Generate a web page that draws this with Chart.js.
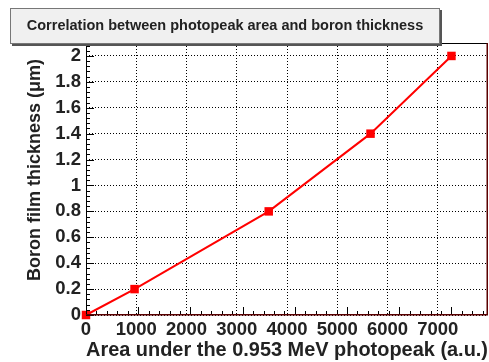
<!DOCTYPE html>
<html>
<head>
<meta charset="utf-8">
<script src="https://cdn.jsdelivr.net/npm/chart.js@4/dist/chart.umd.min.js"></script>
<style>
html,body{margin:0;padding:0;background:#fff;}
#wrap{width:489px;height:362px;position:relative;}
</style>
</head>
<body>
<div id="wrap"><canvas id="c" width="489" height="362"></canvas></div>
<script>
// ---- data ----
const chartTitle = "Correlation between photopeak area and boron thickness";
const xTitle = "Area under the 0.953 MeV photopeak (a.u.)";
const yTitle = "Boron film thickness (\u03bcm)";
const photopeakArea = [0, 930, 3500, 5450, 7000];
const boronThickness = [0, 0.2, 0.8, 1.4, 2.0];
const xTickLabels = ["0","1000","2000","3000","4000","5000","6000","7000"];
const yTickLabels = ["0","0.2","0.4","0.6","0.8","1","1.2","1.4","1.6","1.8","2"];

const FONT = "'Liberation Sans', Arial, Helvetica, sans-serif";

const decor = {
  id: 'decor',
  beforeDraw(chart) {
    const ctx = chart.ctx;
    ctx.save();
    ctx.fillStyle = '#fff';
    ctx.fillRect(0, 0, chart.width, chart.height);
    ctx.restore();
  },
  afterDraw(chart) {
    const ctx = chart.ctx;
    const a = chart.chartArea;
    const xs = chart.scales.x, ys = chart.scales.y;
    ctx.save();
    ctx.strokeStyle = '#000';
    ctx.lineWidth = 1;
    ctx.beginPath();
    for (let v = 0; v <= xs.max + 1e-6; v += 200) {
      const px = Math.round(xs.getPixelForValue(v)) + 0.5;
      const major = Math.abs(v / 1000 - Math.round(v / 1000)) < 1e-6;
      const len = major ? 8 : 4;
      ctx.moveTo(px, a.bottom); ctx.lineTo(px, a.bottom - len);
    }
    for (let v = 0; v <= ys.max + 1e-6; v += 0.04) {
      const py = Math.round(ys.getPixelForValue(v)) + 0.5;
      const major = Math.abs(v / 0.2 - Math.round(v / 0.2)) < 1e-6;
      const len = major ? 8 : 4;
      ctx.moveTo(a.left, py); ctx.lineTo(a.left + len, py);
    }
    ctx.stroke();
    ctx.strokeStyle = '#000';
    ctx.beginPath();
    ctx.moveTo(a.left + 0.5, a.bottom); ctx.lineTo(a.left + 0.5, a.top + 0.5); ctx.lineTo(a.right, a.top + 0.5);
    ctx.stroke();
    ctx.strokeStyle = '#5a0000';
    ctx.lineWidth = 1.5;
    ctx.beginPath();
    ctx.moveTo(a.right - 0.75, a.top); ctx.lineTo(a.right - 0.75, a.bottom - 0.25); ctx.lineTo(a.left, a.bottom - 0.25);
    ctx.stroke();
    // y axis title (ROOT-style placement, upper part of the axis)
    ctx.fillStyle = '#222';
    ctx.font = "bold 18px " + FONT;
    ctx.textAlign = 'center';
    ctx.textBaseline = 'alphabetic';
    ctx.translate(40, 170);
    ctx.rotate(-Math.PI / 2);
    ctx.fillText(yTitle, 0, 0);
    ctx.setTransform(1, 0, 0, 1, 0, 0);
    // title box
    const bx = 10, by = 8, bw = 430, bh = 36;
    ctx.fillStyle = '#555';
    ctx.fillRect(bx + 2, by + 2, bw, bh);
    ctx.fillStyle = '#f0f0f0';
    ctx.fillRect(bx, by, bw, bh);
    ctx.strokeStyle = '#777';
    ctx.lineWidth = 1;
    ctx.strokeRect(bx + 0.5, by + 0.5, bw - 1, bh - 1);
    ctx.fillStyle = '#222';
    ctx.font = "bold 14.5px " + FONT;
    ctx.textAlign = 'center';
    ctx.textBaseline = 'middle';
    ctx.fillText(chartTitle, bx + bw / 2, by + bh / 2);
    ctx.restore();
  }
};

function build() {
  new Chart(document.getElementById('c'), {
    type: 'line',
    data: {
      datasets: [{
        data: photopeakArea.map((x, i) => ({x: x, y: boronThickness[i]})),
        borderColor: '#ff0000',
        backgroundColor: '#ff0000',
        borderWidth: 2,
        pointStyle: 'rect',
        pointRadius: 6,
        pointHoverRadius: 6,
        pointBorderWidth: 0,
        tension: 0,
        clip: false
      }]
    },
    options: {
      responsive: false,
      animation: false,
      events: [],
      layout: { autoPadding: false, padding: { top: 43, right: 1, left: 0, bottom: 0 } },
      plugins: { legend: { display: false }, tooltip: { enabled: false }, title: { display: false } },
      scales: {
        x: {
          type: 'linear',
          min: 0, max: 7700,
          afterFit(s) { s.height = 47; },
          ticks: {
            stepSize: 1000, includeBounds: false, padding: 4,
            color: '#222',
            font: { family: FONT, size: 18.5, weight: 'bold' },
            maxRotation: 0,
            callback: (v, i) => xTickLabels[i]
          },
          grid: { color: '#000', lineWidth: 1, drawTicks: false },
          border: { display: false, dash: [1, 2] },
          title: {
            display: true, text: xTitle, color: '#222',
            align: 'end',
            font: { family: FONT, size: 20, weight: 'bold' },
            padding: { top: 0, bottom: 0 }
          }
        },
        y: {
          type: 'linear',
          min: 0, max: 2.1,
          afterFit(s) { s.width = 86; },
          ticks: {
            stepSize: 0.2, includeBounds: false, padding: 5,
            color: '#222',
            font: { family: FONT, size: 18.5, weight: 'bold' },
            callback: (v, i) => yTickLabels[i]
          },
          grid: { color: '#000', lineWidth: 1, drawTicks: false },
          border: { display: false, dash: [1, 2] },
          title: { display: false }
        }
      }
    },
    plugins: [decor]
  });
}

const loads = [
  "bold 18px 'Liberation Sans'", "18px 'Liberation Sans'"
].map(f => (document.fonts && document.fonts.load) ? document.fonts.load(f).catch(() => null) : Promise.resolve());
Promise.all(loads).then(build, build);
</script>
</body>
</html>
